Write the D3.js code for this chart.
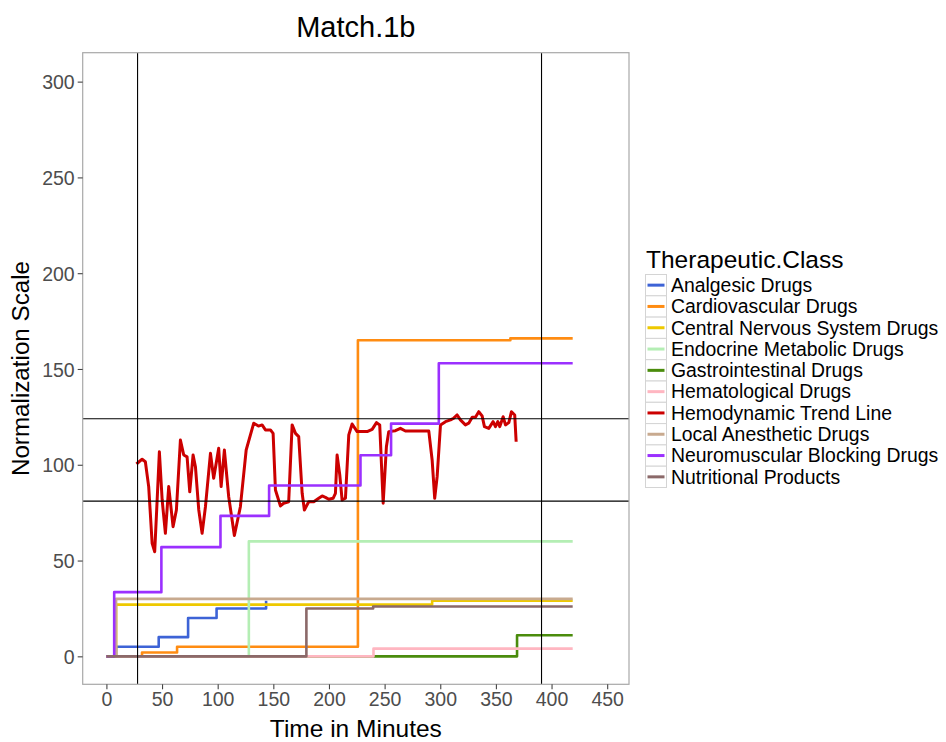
<!DOCTYPE html>
<html>
<head>
<meta charset="utf-8">
<script src="https://cdn.jsdelivr.net/npm/d3@7"></script>
<style>
  html, body { margin: 0; padding: 0; background: #fff; }
  svg { display: block; font-family: "Liberation Sans", Arial, sans-serif; }
</style>
</head>
<body>
<svg id="chart" width="946" height="742"></svg>
<script>
// ---------- DATA ----------
const title = "Match.1b";
const xTitle = "Time in Minutes";
const yTitle = "Normalization Scale";
const legendTitle = "Therapeutic.Class";
const xTicks = [0, 50, 100, 150, 200, 250, 300, 350, 400, 450];
const yTicks = [0, 50, 100, 150, 200, 250, 300];

const categories = [
  "Analgesic Drugs", "Cardiovascular Drugs", "Central Nervous System Drugs",
  "Endocrine Metabolic Drugs", "Gastrointestinal Drugs", "Hematological Drugs",
  "Hemodynamic Trend Line", "Local Anesthetic Drugs", "Neuromuscular Blocking Drugs",
  "Nutritional Products"
];
const colors = ["#3d63d6", "#ff8c12", "#eec900", "#b4eeb4", "#4a8c0c", "#ffb6c1",
                "#cc0000", "#c8aa8f", "#9b30ff", "#8b6969"];

// step series: [minute, value]
const analgesic = [[0,0],[8.7,5],[47,10],[73.4,20],[99,25],[143.5,29]];
const cardiovascular = [[0,0],[32,2],[63.5,5],[226,165],[363,166],[419,166]];
const centralNervous = [[0,0],[8.7,27],[292.7,29],[419,29]];
const endocrine = [[0,0],[128,60],[419,60]];
const gastro = [[0,0],[369,11],[419,11]];
const hematological = [[0,0],[240,4],[419,4]];
const localAnesthetic = [[0,0],[8.7,30],[419,30]];
const neuromuscular = [[0,0],[7,33.5],[49.4,57],[102.5,73.3],[146.2,89.2],[228.3,105],[255.8,121.5],[298.7,153],[419,153]];
const nutritional = [[0,0],[179.7,25],[239.7,26],[419,26]];

// hemodynamic trend (continuous)
const hemoMinutes = [27.0,32.1,35.0,38.0,41.1,43.4,45.6,47.6,50.1,53.0,56.0,59.9,62.9,66.5,69.5,72.5,74.9,77.9,80.0,83.0,86.0,89.0,93.5,96.4,100.9,103.1,106.0,109.9,115.0,120.4,125.6,132.4,136.6,139.9,142.9,147.4,149.8,151.9,156.4,159.3,163.8,166.9,169.9,172.8,175.9,177.9,181.8,186.3,190.8,193.9,196.8,199.8,203.7,205.8,207.3,209.7,211.8,214.8,217.8,220.8,225.3,234.3,238.8,242.7,245.6,248.7,251.6,253.7,259.7,264.2,268.7,289.7,292.7,295.0,297.2,300.2,304.7,309.2,312.1,315.2,318.1,322.6,325.6,328.7,331.6,334.6,337.6,339.7,343.6,347.5,349.6,351.7,353.5,356.5,358.6,361.6,364.0,366.9,368.2];
const hemoValues = [100.4,102.9,101.6,88.6,59.0,54.6,81.6,106.8,81.6,64.2,88.6,67.7,76.4,112.9,105.1,104.1,85.9,105.1,99.0,76.4,64.2,78.1,106.0,92.9,108.6,88.6,107.7,83.3,63.1,78.1,107.7,121.7,120.2,120.8,118.2,118.2,116.4,86.8,78.5,79.9,80.7,120.8,116.4,114.7,85.1,76.4,80.7,80.7,82.5,83.7,83.0,82.0,82.5,85.1,105.1,94.7,81.6,82.5,115.6,121.3,117.3,117.3,118.5,122.0,120.8,79.9,109.4,117.3,117.8,119.0,117.6,117.6,102.5,82.5,93.8,120.8,122.5,123.4,124.3,126.0,123.4,120.8,121.7,124.8,124.8,127.7,125.5,119.9,119.0,122.5,119.9,122.5,119.9,125.1,120.8,122.0,127.7,126.0,112.0];

const vRefLines = [28, 391];
const hRefLines = [81, 124];

// ---------- CHART ----------
const svg = d3.select("#chart");
const panel = { left: 82.7, top: 52.7, right: 629, bottom: 684.3 };

const x = d3.scaleLinear().domain([-21.3, 469.6]).range([panel.left, panel.right]);
const y = d3.scaleLinear().domain([-14.6, 315.1]).range([panel.bottom, panel.top]);

svg.append("defs").append("clipPath").attr("id", "clip")
  .append("rect").attr("x", panel.left).attr("y", panel.top)
  .attr("width", panel.right - panel.left).attr("height", panel.bottom - panel.top);

svg.append("rect").attr("x", panel.left).attr("y", panel.top)
  .attr("width", panel.right - panel.left).attr("height", panel.bottom - panel.top)
  .attr("fill", "#fff");

const g = svg.append("g").attr("clip-path", "url(#clip)");

const stepLine = d3.line().x(d => x(d[0])).y(d => y(d[1])).curve(d3.curveStepAfter);
const smoothLine = d3.line().x(d => x(d[0])).y(d => y(d[1]));

const hemodynamic = hemoMinutes.map((m, i) => [m, hemoValues[i]]);
const seriesData = [analgesic, cardiovascular, centralNervous, endocrine, gastro,
  hematological, hemodynamic, localAnesthetic, neuromuscular, nutritional];

seriesData.forEach((s, i) => {
  const isHemo = categories[i] === "Hemodynamic Trend Line";
  g.append("path")
    .datum(s)
    .attr("d", isHemo ? smoothLine : stepLine)
    .attr("fill", "none")
    .attr("stroke", colors[i])
    .attr("stroke-width", isHemo ? 3 : 2.6)
    .attr("stroke-linejoin", "round")
    .attr("stroke-linecap", "butt");
});

// reference lines
g.selectAll(".vref").data(vRefLines).enter().append("line")
  .attr("x1", d => x(d)).attr("x2", d => x(d))
  .attr("y1", panel.top).attr("y2", panel.bottom)
  .attr("stroke", "#000").attr("stroke-width", 1.1);
g.selectAll(".href").data(hRefLines).enter().append("line")
  .attr("y1", d => y(d)).attr("y2", d => y(d))
  .attr("x1", panel.left).attr("x2", panel.right)
  .attr("stroke", "#000").attr("stroke-width", 1.1);

// panel border
svg.append("rect").attr("x", panel.left).attr("y", panel.top)
  .attr("width", panel.right - panel.left).attr("height", panel.bottom - panel.top)
  .attr("fill", "none").attr("stroke", "#a8a8a8").attr("stroke-width", 1.2);

// axes
const xAxis = d3.axisBottom(x).tickValues(xTicks).tickSize(5).tickPadding(3);
const yAxis = d3.axisLeft(y).tickValues(yTicks).tickSize(5).tickPadding(3);

const gx = svg.append("g").attr("transform", `translate(0,${panel.bottom})`).call(xAxis);
const gy = svg.append("g").attr("transform", `translate(${panel.left},0)`).call(yAxis);
[gx, gy].forEach(a => {
  a.select(".domain").remove();
  a.selectAll(".tick line").attr("stroke", "#444").attr("stroke-width", 1.1);
  a.selectAll(".tick text").attr("fill", "#4d4d4d")
    .style("font-size", "19.5px").style("font-family", "Liberation Sans, Arial, sans-serif");
});
gy.selectAll(".tick text").attr("dy", "0.36em");

// titles
svg.append("text").attr("x", (panel.left + panel.right) / 2).attr("y", 37)
  .attr("text-anchor", "middle").style("font-size", "29px").attr("fill", "#000").text(title);
svg.append("text").attr("x", (panel.left + panel.right) / 2).attr("y", 737)
  .attr("text-anchor", "middle").style("font-size", "24.5px").attr("fill", "#000").text(xTitle);
svg.append("text")
  .attr("transform", `translate(29,${(panel.top + panel.bottom) / 2}) rotate(-90)`)
  .attr("text-anchor", "middle").style("font-size", "24.2px").attr("fill", "#000").text(yTitle);

// legend
const lg = svg.append("g").attr("transform", "translate(645,0)");
lg.append("text").attr("x", 1).attr("y", 268).style("font-size", "24.5px").attr("fill", "#000").text(legendTitle);
const rowH = 21.3, firstTop = 274.5;
categories.forEach((c, i) => {
  const top = firstTop + i * rowH;
  lg.append("rect").attr("x", 0.5).attr("y", top).attr("width", 21).attr("height", rowH)
    .attr("fill", "#fff").attr("stroke", "#d4d4d4").attr("stroke-width", 1);
  lg.append("line").attr("x1", 2.5).attr("x2", 19.5)
    .attr("y1", top + rowH / 2).attr("y2", top + rowH / 2)
    .attr("stroke", colors[i]).attr("stroke-width", 3);
  lg.append("text").attr("x", 26).attr("y", top + rowH / 2).attr("dy", "0.35em")
    .style("font-size", "19.4px").attr("fill", "#000").text(c);
});
</script>
</body>
</html>
